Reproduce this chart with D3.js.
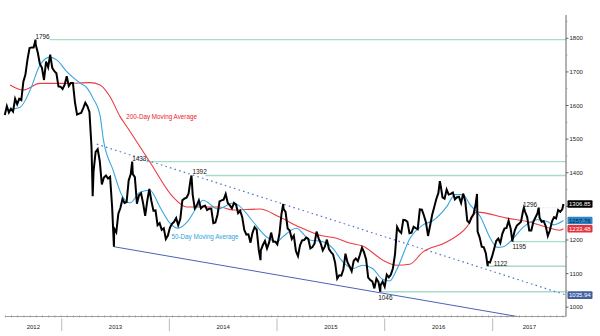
<!DOCTYPE html>
<html><head><meta charset="utf-8">
<script src="https://cdn.jsdelivr.net/npm/d3@7"></script>
<style>
html,body{margin:0;padding:0;background:#fff;}
svg{display:block;font-family:"Liberation Sans",Arial,sans-serif;}
</style></head><body>
<svg id="chart" width="600" height="336"></svg>
<script>
// ---------- DATA ----------
const firstFridays = ['2012-06-22','2013-01-04','2014-01-03','2015-01-02','2016-01-01','2017-01-06'];
const close2012 = [1572,1598,1579,1590,1582,1620,1604,1620,1616,1671,1692,1737,1771,1773,1773,1781,1757,1724,1712,1676,1731,1714,1751,1712,1702,1696,1657,1656];
const close2013 = [1649,1662,1687,1658,1667,1667,1609,1573,1576,1578,1592,1608,1598,1581,1477,1405,1462,1470,1435,1365,1386,1392,1383,1388,1297,1234,1223,1278,1295,1322,1310,1313,1377,1396,1396,1387,1308,1333,1339,1309,1272,1316,1352,1316,1287,1288,1244,1250,1230,1235,1203,1213];
const close2014 = [1237,1248,1254,1265,1244,1262,1318,1323,1326,1338,1380,1335,1294,1303,1318,1294,1300,1302,1289,1293,1293,1250,1252,1274,1315,1318,1320,1337,1310,1303,1294,1310,1305,1280,1287,1268,1230,1216,1217,1192,1222,1238,1231,1171,1169,1185,1197,1175,1192,1222,1195,1195];
const close2015 = [1187,1217,1277,1293,1283,1234,1228,1203,1213,1167,1152,1184,1199,1200,1207,1203,1175,1179,1189,1225,1205,1190,1169,1180,1201,1173,1164,1157,1132,1085,1095,1094,1113,1159,1133,1121,1107,1138,1145,1137,1156,1177,1163,1142,1088,1081,1077,1056,1085,1075,1065,1076];
const close2016 = [1061,1097,1089,1097,1116,1158,1239,1227,1221,1260,1259,1254,1220,1222,1239,1235,1232,1291,1290,1273,1252,1212,1243,1275,1298,1322,1340,1366,1327,1323,1350,1335,1337,1341,1321,1327,1328,1310,1338,1316,1257,1251,1267,1276,1304,1225,1207,1180,1178,1160,1135,1133,1151];
const close2017 = [1173,1197,1204,1191,1219,1234,1236,1257,1234,1202,1229,1243,1248,1254,1286,1284,1268,1228,1228,1254,1267,1280,1266,1254,1256,1241,1212,1228,1255,1268,1264,1289,1284,1291];
const weeklyCloses = [close2012, close2013, close2014, close2015, close2016, close2017];

// intra-week extremes
const extremeDates  = ['2012-10-04','2013-04-16','2013-06-27','2013-08-28','2014-03-17','2014-11-06','2015-01-22','2015-12-17','2016-07-06','2016-11-09','2016-12-15','2017-03-09','2017-04-17','2017-06-06','2017-08-29'];
const extremeValues = [1796,1330,1180,1433,1392,1140,1307,1046,1375,1337,1122,1195,1296,1296,1306.85];

// 50-day moving average
const ma50Dates  = ['2012-07-03','2012-08-13','2012-09-16','2012-10-19','2012-11-22','2012-12-16','2013-01-19','2013-03-04','2013-03-28','2013-04-17','2013-05-11','2013-05-22','2013-06-24','2013-07-24','2013-08-21','2013-09-23','2013-10-27','2013-11-30','2014-01-03','2014-01-30','2014-03-02','2014-04-05','2014-04-25','2014-06-15','2014-08-05','2014-08-28','2014-10-11','2014-11-28','2015-01-01','2015-01-21','2015-03-08','2015-04-22','2015-06-05','2015-07-09','2015-08-12','2015-09-15','2015-10-18','2015-11-21','2015-12-25','2016-01-18','2016-02-11','2016-03-27','2016-05-10','2016-06-13','2016-07-30','2016-08-26','2016-09-22','2016-10-16','2016-11-20','2016-12-24','2017-01-17','2017-02-06','2017-03-12','2017-04-15','2017-06-01','2017-07-05','2017-07-26','2017-08-29'];
const ma50Values = [1587,1595,1646,1720,1744,1735,1700,1667,1652,1622,1570,1500,1408,1333,1310,1342,1348,1298,1250,1235,1253,1298,1318,1292,1310,1300,1255,1208,1195,1210,1235,1200,1195,1175,1135,1115,1125,1115,1083,1078,1112,1205,1245,1258,1300,1335,1335,1305,1270,1205,1178,1180,1205,1238,1260,1255,1245,1257.76];

// 200-day moving average
const ma200Dates  = ['2012-07-10','2012-08-23','2012-10-19','2013-01-19','2013-04-07','2013-05-11','2013-06-14','2013-07-18','2013-08-10','2013-10-27','2014-01-13','2014-03-01','2014-04-04','2014-06-21','2014-08-04','2014-11-03','2015-01-10','2015-03-19','2015-05-26','2015-07-22','2015-09-04','2015-10-18','2016-01-01','2016-02-11','2016-03-26','2016-05-09','2016-07-29','2016-10-05','2016-11-08','2017-02-18','2017-05-07','2017-07-03','2017-08-16','2017-08-29'];
const ma200Values = [1661,1646,1666,1666,1668,1661,1626,1567,1537,1432,1328,1298,1298,1298,1289,1292,1268,1238,1214,1205,1191,1182,1137,1125,1128,1164,1194,1238,1283,1265,1253,1238,1229,1233.48];

// horizontal levels
const levelValues    = [1796, 1433, 1392, 1195, 1122, 1046];
const levelStartDates= ['2012-10-04','2013-08-28','2014-03-17','2017-03-09','2016-12-15','2015-12-17'];
const levelAfterLabel= [true, true, true, false, false, false];

// trend lines
const resistanceDates = ['2013-04-30','2017-09-08'];
const resistanceValues = [1485, 1035.94];
const supportDates = ['2013-06-27','2017-04-03'];
const supportValues = [1180, 971];

// pivot labels
const pivotTexts  = ['1796','1433','1392','1046','1122','1195','1296'];
const pivotDates  = ['2012-10-04','2013-08-28','2014-03-17','2015-12-17','2016-12-15','2017-03-09','2017-04-17'];
const pivotValues = [1796,1433,1392,1046,1122,1195,1296];

// last-value boxes
const boxValues = [1306.85, 1257.76, 1233.48, 1035.94];
const boxLabels = ['1306.85','1257.76','1233.48','1035.94'];

// axis
const yTickValues = [1000,1100,1200,1300,1400,1500,1600,1700,1800];
const yearLabels = ['2012','2013','2014','2015','2016','2017'];

// ---------- DRAW ----------
const parse = d3.utcParse('%Y-%m-%d');
const svg = d3.select('#chart');
const x = d3.scaleUtc().domain([parse('2012-06-18'), parse('2017-09-08')]).range([3.6, 566.4]);
const y = d3.scaleLinear().domain([1000, 1800]).range([307.2, 38.3]);
const axisX = 566, axisBottom = 316.5, plotLeft = 5;

// price series
let price = [];
weeklyCloses.forEach((arr, i) => {
  const d0 = parse(firstFridays[i]);
  arr.forEach((v, j) => price.push({date: d3.utcDay.offset(d0, 7 * j), value: v}));
});
extremeDates.forEach((d, i) => price.push({date: parse(d), value: extremeValues[i]}));
price.sort((a, b) => a.date - b.date);

const ma50 = ma50Dates.map((d, i) => ({date: parse(d), value: ma50Values[i]}));
const ma200 = ma200Dates.map((d, i) => ({date: parse(d), value: ma200Values[i]}));

// clip
svg.append('clipPath').attr('id', 'plot').append('rect')
  .attr('x', 0).attr('y', 10).attr('width', axisX).attr('height', axisBottom - 10);
const g = svg.append('g').attr('clip-path', 'url(#plot)');

// horizontal levels
levelValues.forEach((v, i) => {
  const x0 = x(parse(levelStartDates[i])) + (levelAfterLabel[i] ? 14 : 0);
  g.append('line').attr('x1', x0).attr('x2', axisX)
    .attr('y1', y(v)).attr('y2', y(v))
    .attr('stroke', '#a6dcc9').attr('stroke-width', 1.4);
});
// faint dotted level from 1296 label
g.append('line').attr('x1', x(parse('2017-06-06')) + 1).attr('x2', axisX)
  .attr('y1', y(1296)).attr('y2', y(1296))
  .attr('stroke', '#c8c8c8').attr('stroke-width', 0.8).attr('stroke-dasharray', '1,2');

// trend lines
const lineGen = d3.line().x(d => x(d.date)).y(d => y(d.value));
g.append('path')
  .datum(resistanceDates.map((d, i) => ({date: parse(d), value: resistanceValues[i]})))
  .attr('d', lineGen).attr('fill', 'none').attr('stroke', '#5877d0')
  .attr('stroke-width', 1.2).attr('stroke-dasharray', '1.6,3.2');
g.append('path')
  .datum(supportDates.map((d, i) => ({date: parse(d), value: supportValues[i]})))
  .attr('d', lineGen).attr('fill', 'none').attr('stroke', '#4c62b8').attr('stroke-width', 1);

// moving averages
const smooth = d3.line().x(d => x(d.date)).y(d => y(d.value)).curve(d3.curveMonotoneX);
g.append('path').datum(ma200).attr('d', smooth).attr('fill', 'none')
  .attr('stroke', '#ec3b41').attr('stroke-width', 1.1);
g.append('path').datum(ma50).attr('d', smooth).attr('fill', 'none')
  .attr('stroke', '#36a6e2').attr('stroke-width', 1.1);

// price
g.append('path').datum(price).attr('d', lineGen).attr('fill', 'none')
  .attr('stroke', '#000').attr('stroke-width', 2).attr('stroke-linejoin', 'miter');

// MA labels
svg.append('text').attr('x', x(parse('2013-08-08'))).attr('y', y(1560))
  .attr('font-size', 6.3).attr('fill', '#e8242c').text('200-Day Moving Average');
svg.append('text').attr('x', x(parse('2014-01-08'))).attr('y', y(1204))
  .attr('font-size', 6.3).attr('fill', '#2fa3e0').text('50-Day Moving Average');

// pivot labels
const pivotDx = [0, 0, 1, -2, 6, 0, -1];
const pivotDy = [-1, -0.5, -1, 8, 0, 7, -1];
pivotTexts.forEach((t, i) => {
  svg.append('text').attr('x', x(parse(pivotDates[i])) + pivotDx[i])
    .attr('y', y(pivotValues[i]) + pivotDy[i])
    .attr('font-size', 6.4).attr('fill', '#111').text(t);
});

// Y axis
svg.append('line').attr('x1', axisX).attr('x2', axisX).attr('y1', 15).attr('y2', axisBottom)
  .attr('stroke', '#666').attr('stroke-width', 1);
yTickValues.forEach(v => {
  svg.append('line').attr('x1', axisX).attr('x2', axisX + 2.5).attr('y1', y(v)).attr('y2', y(v))
    .attr('stroke', '#444').attr('stroke-width', 0.8);
  svg.append('line').attr('x1', axisX).attr('x2', axisX + 1.5).attr('y1', y(v + 50)).attr('y2', y(v + 50))
    .attr('stroke', '#888').attr('stroke-width', 0.6);
  // labels hidden behind a value box are not drawn (as in the reference)
  const covered = boxValues.some(b => Math.abs(y(b) - y(v)) < 7);
  if (!covered) {
    svg.append('text').attr('x', axisX + 3.5).attr('y', y(v) + 2.1)
      .attr('font-size', 6).attr('fill', '#222').text(String(v));
  }
});

// X axis
svg.append('line').attr('x1', plotLeft).attr('x2', axisX).attr('y1', axisBottom).attr('y2', axisBottom)
  .attr('stroke', '#888').attr('stroke-width', 0.8);
d3.utcWeek.every(3).range(x.domain()[0], x.domain()[1]).forEach(d => {
  const xx = x(d);
  if (xx < plotLeft || xx > axisX) return;
  svg.append('line').attr('x1', xx).attr('x2', xx).attr('y1', axisBottom - 1.2).attr('y2', axisBottom + 1)
    .attr('stroke', '#888').attr('stroke-width', 0.6);
});
const yearBounds = yearLabels.map(s => parse(s + '-01-01'));
yearBounds.forEach((d, i) => {
  const x0 = Math.max(plotLeft, x(d));
  const next = i + 1 < yearBounds.length ? x(yearBounds[i + 1]) : axisX;
  const x1 = Math.min(axisX, next);
  if (i > 0) {
    svg.append('line').attr('x1', x(d)).attr('x2', x(d)).attr('y1', axisBottom + 2).attr('y2', 331)
      .attr('stroke', '#aaa').attr('stroke-width', 0.8);
  }
  svg.append('text').attr('x', (x0 + x1) / 2).attr('y', 328.8).attr('text-anchor', 'middle')
    .attr('font-size', 6).attr('fill', '#222').text(yearLabels[i]);
});

// value boxes
const boxFill = ['#000000', '#2b86c8', '#e5323a', '#42609f'];
const boxText = ['#ffffff', '#0b1b33', '#ffffff', '#ffffff'];
boxValues.forEach((v, i) => {
  const cy = y(v);
  svg.append('rect').attr('x', axisX + 1.5).attr('y', cy - 3.8).attr('width', 25).attr('height', 7.6)
    .attr('rx', 1).attr('fill', boxFill[i]);
  svg.append('text').attr('x', axisX + 3).attr('y', cy + 2.2)
    .attr('font-size', 6).attr('fill', boxText[i]).text(boxLabels[i]);
});
</script>
</body></html>
